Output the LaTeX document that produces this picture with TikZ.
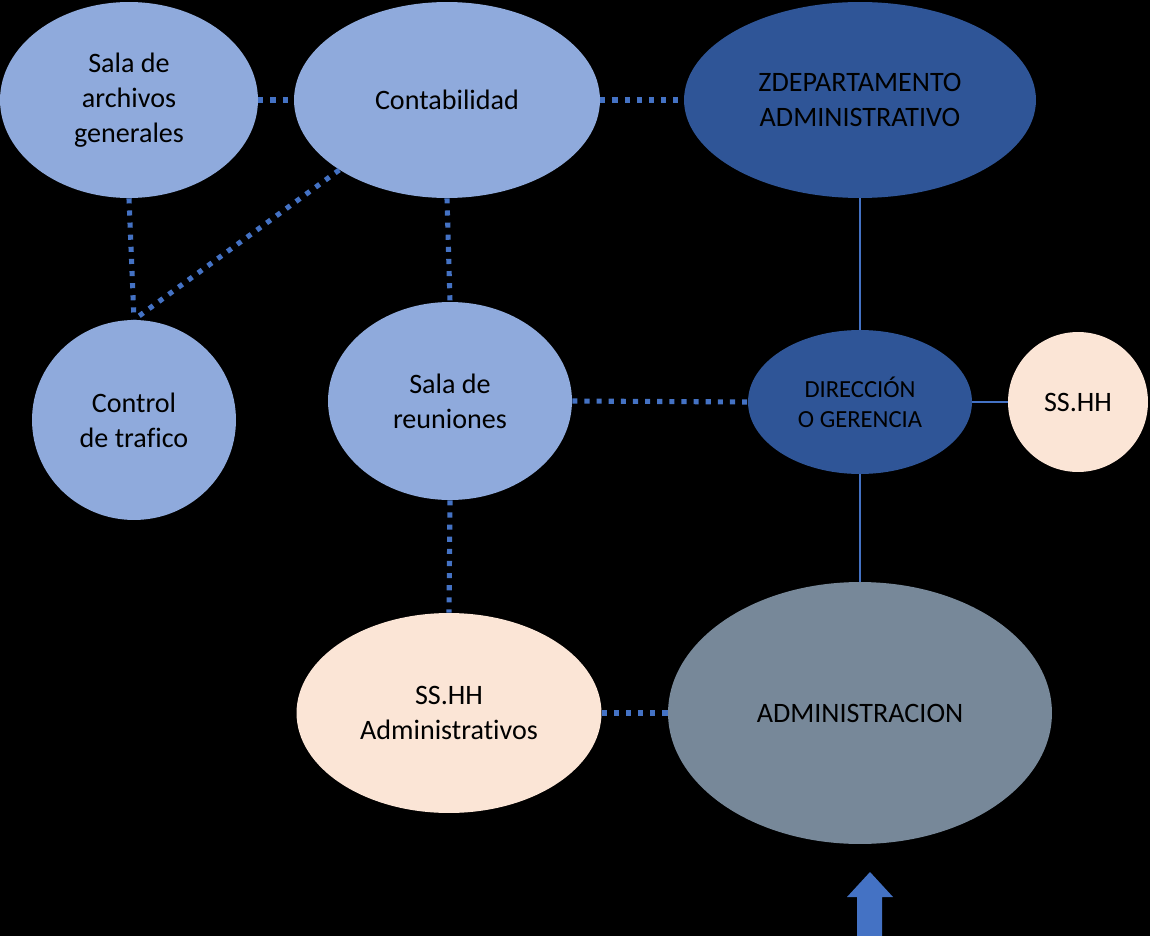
\documentclass[tikz,border=0pt]{standalone}
\usepackage{fontspec}
\setmainfont[Ligatures=NoCommon]{Carlito}
\usepackage{tikz}
\usetikzlibrary{shapes.geometric, arrows.meta, positioning}
\definecolor{salaBlue}{HTML}{8FAADC}
\definecolor{deptBlue}{HTML}{2F5597}
\definecolor{peachFill}{HTML}{FBE5D6}
\definecolor{adminGrey}{HTML}{778899}
\definecolor{linkBlue}{HTML}{4472C4}
\tikzset{
  area/.style   = {ellipse, inner sep=0pt, align=center, text=black,
                   font=\fontsize{16}{20}\selectfont},
  areaL/.style  = {area, fill=salaBlue},
  areaD/.style  = {area, fill=deptBlue},
  areaP/.style  = {area, fill=peachFill},
  areaG/.style  = {area, fill=adminGrey},
  dotlink/.style  = {draw=linkBlue, line width=2.9pt, dash pattern=on 2.9pt off 4pt},
  thinlink/.style = {draw=linkBlue, line width=0.6pt},
  bigarrow/.style = {fill=linkBlue},
}

\begin{document}
\begin{tikzpicture}[x=0.02cm, y=-0.02cm]

    %% background and page size
    \fill[black] (0,0) rectangle (1150,936);

    %% Row 1
    \node[areaL, minimum width=5.16cm, minimum height=3.92cm] (archivos) at (129,100) {Sala de\\archivos\\generales};
    \node[areaL, minimum width=6.12cm, minimum height=3.92cm] (conta)    at (447,100) {Contabilidad};
    \node[areaD, minimum width=7.04cm, minimum height=3.92cm,
          font=\fontsize{16}{19.5}\selectfont]                (zdep)     at (860,100) {ZDEPARTAMENTO\\ADMINISTRATIVO};

    %% Row 2
    \node[areaL, minimum width=4.08cm, minimum height=4.0cm]  (trafico)   at (134,420) {Control\\de trafico};
    \node[areaL, minimum width=4.88cm, minimum height=3.96cm] (reuniones) at (450,401) {Sala de\\reuniones};
    \node[areaD, minimum width=4.48cm, minimum height=2.88cm,
          font=\fontsize{14}{17}\selectfont]                  (gerencia)  at (860,402) {DIRECCIÓN\\O GERENCIA};
    \node[areaP, minimum width=2.8cm, minimum height=2.8cm]   (sshh)      at (1078,402) {SS.HH};

    %% Row 3
    \node[areaP, minimum width=6.1cm, minimum height=4.0cm]   (sshhadm) at (449,713) {SS.HH\\Administrativos};
    \node[areaG, minimum width=7.68cm, minimum height=5.24cm] (admin)   at (860,713) {ADMINISTRACION};

    %% Dotted links
    \draw[dotlink] (archivos.east) -- (conta.west);
    \draw[dotlink] (conta.east) -- (zdep.west);
    \draw[dotlink] (archivos.south) -- (trafico.north);
    \draw[dotlink] (conta.-147) -- (trafico.north);
    \draw[dotlink] (conta.south) -- (reuniones.north);
    \draw[dotlink] (reuniones.east) -- (gerencia.west);
    \draw[dotlink] (reuniones.south) -- (sshhadm.north);
    \draw[dotlink] (sshhadm.east) -- (admin.west);

    %% Thin links
    \draw[thinlink] (zdep.south) -- (gerencia.north);
    \draw[thinlink] (gerencia.east) -- (sshh.west);
    \draw[thinlink] (gerencia.south) -- (admin.north);

    %% Entrance arrow
    \fill[bigarrow] (870,872) -- (893,897) -- (882,897) -- (882,936)
                    -- (857,936) -- (857,897) -- (847,897) -- cycle;

  \end{tikzpicture}
\end{document}
